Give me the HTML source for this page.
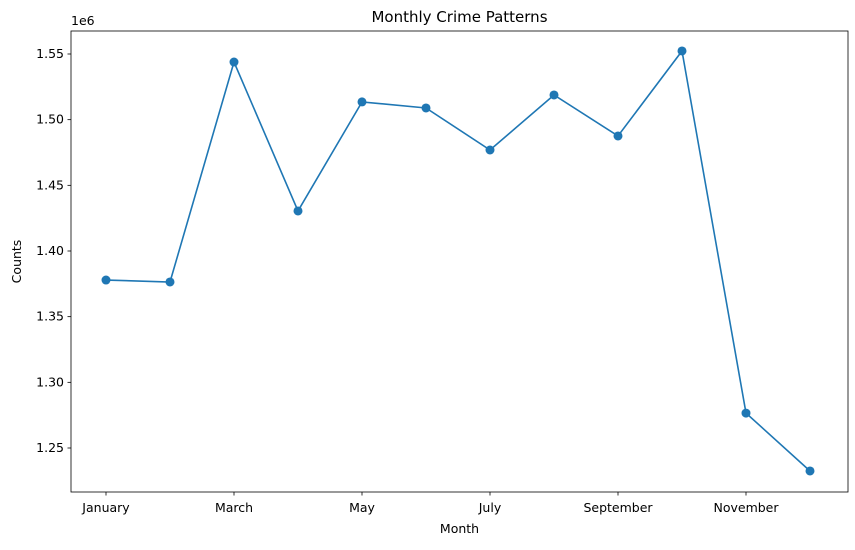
<!DOCTYPE html>
<html><head><meta charset="utf-8"><style>
body{margin:0;background:#fff;font-family:"Liberation Sans","DejaVu Sans",sans-serif;}
svg text{font-family:"DejaVu Sans","Liberation Sans",sans-serif;}
</style></head><body>
<svg id="chart" width="855" height="545" xmlns="http://www.w3.org/2000/svg">
</svg>
<script>
const months = ["January","February","March","April","May","June","July","August","September","October","November","December"];
const counts = [1377900,1376400,1543900,1430500,1513500,1508900,1476900,1518800,1487600,1552300,1276600,1232500];
const yTicks = [1.25,1.30,1.35,1.40,1.45,1.50,1.55];
const xTickIdx = [0,2,4,6,8,10];

const L=71,R=848,T=31,B=492;
const NS="http://www.w3.org/2000/svg";
const svg=document.getElementById('chart');
function xs(i){return 106+i*64;}
function ys(v){return 54+(1.55-v/1e6)*1313.33;}
function mk(tag,attrs,parent){const e=document.createElementNS(NS,tag);for(const k in attrs)e.setAttribute(k,attrs[k]);(parent||svg).appendChild(e);return e;}

const frame=mk('rect',{x:L,y:T,width:R-L,height:B-T,fill:'none',stroke:'#000','stroke-width':0.8});



yTicks.forEach(t=>{
  const y=ys(t*1e6);
  const ln=mk('line',{x1:L-3.5,x2:L,y1:y,y2:y,stroke:'#000','stroke-width':0.8});
  
  
  const tx=mk('text',{x:L-7,y:y+4,'text-anchor':'end','font-size':12.5,fill:'#000'});
  tx.textContent=t.toFixed(2);
  
  
});
xTickIdx.forEach(i=>{
  const x=xs(i);
  const ln=mk('line',{x1:x,x2:x,y1:B,y2:B+3.5,stroke:'#000','stroke-width':0.8});
  
  
  const tx=mk('text',{x:x,y:B+20,'text-anchor':'middle','font-size':12.5,fill:'#000'});
  tx.textContent=months[i];
  
  
});

const pts=counts.map((v,i)=>xs(i)+','+ys(v)).join(' ');
const line=mk('polyline',{points:pts,fill:'none',stroke:'#1f77b4','stroke-width':1.6});


counts.forEach((v,i)=>{
  const c=mk('circle',{cx:xs(i),cy:ys(v),r:4.5,fill:'#1f77b4'});
  
  
});

const title=mk('text',{x:(L+R)/2,y:22,'text-anchor':'middle','font-size':15,fill:'#000'});
title.textContent='Monthly Crime Patterns';


const xt=mk('text',{x:(L+R)/2,y:533,'text-anchor':'middle','font-size':12.5,fill:'#000'});
xt.textContent='Month';


const yt=mk('text',{x:21,y:(T+B)/2,'text-anchor':'middle','font-size':12.5,fill:'#000',transform:'rotate(-90 21 '+((T+B)/2)+')'});
yt.textContent='Counts';


const off=mk('text',{x:L,y:25,'font-size':12.5,fill:'#000'});
off.textContent='1e6';


</script>
</body></html>
